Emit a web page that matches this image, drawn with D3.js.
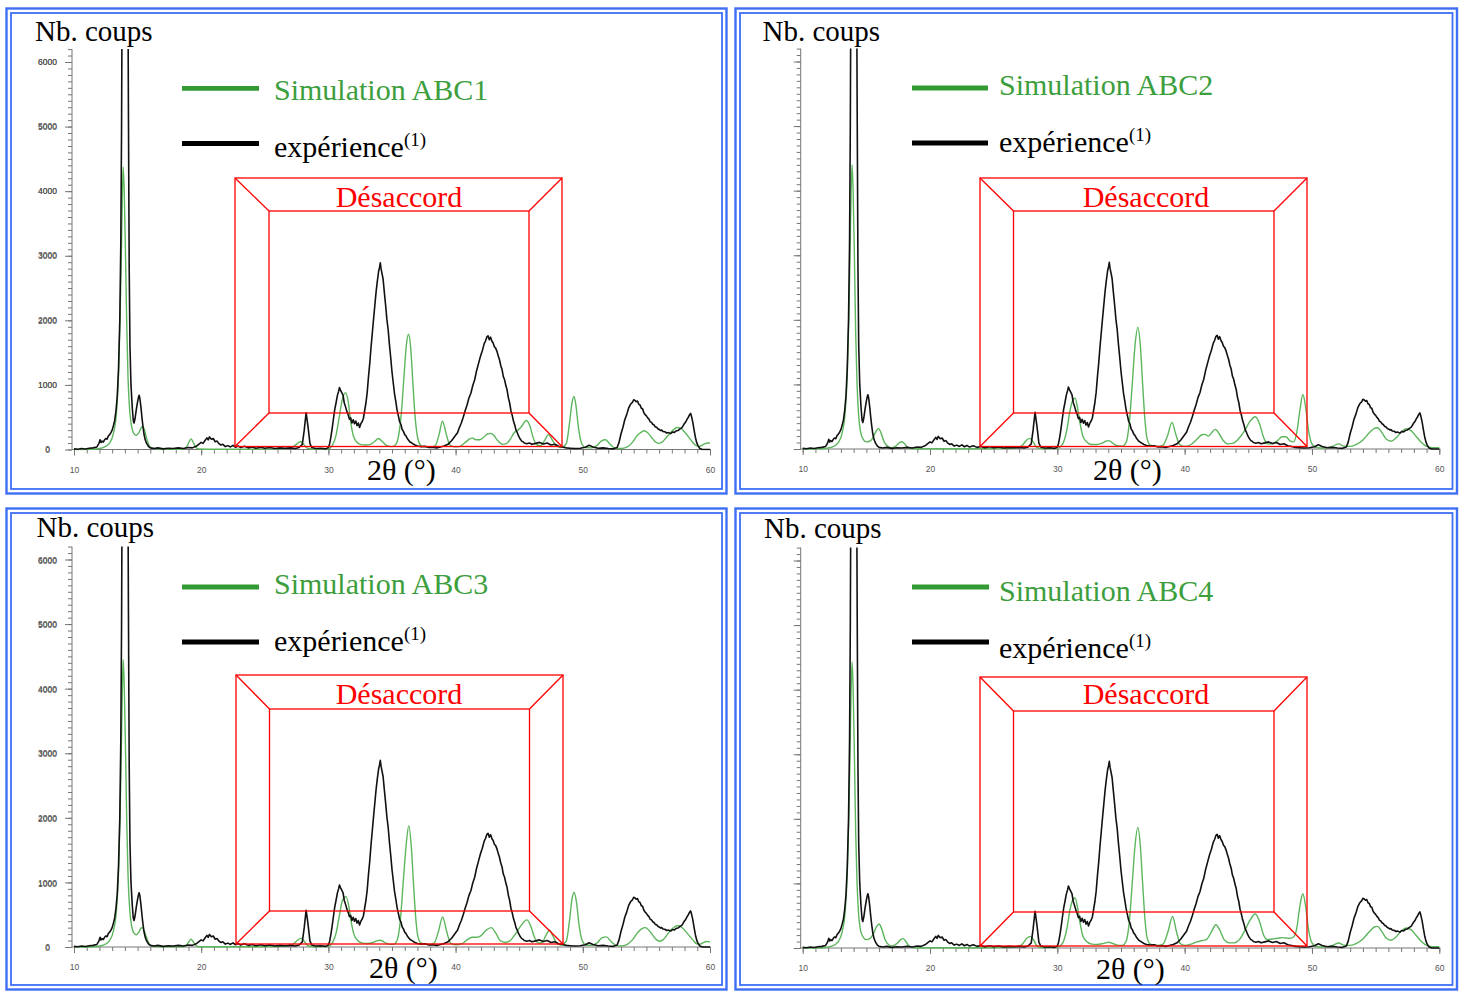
<!DOCTYPE html>
<html><head><meta charset="utf-8">
<script src="https://cdn.jsdelivr.net/npm/d3@7"></script>
<style>body{margin:0;background:#fff;} svg{display:block}</style>
</head><body><svg id="c" width="1463" height="991"></svg>
<script>
// ---------- data ----------
const xMajorTicks = [10, 20, 30, 40, 50, 60];
const yMajorTicks = [0, 1000, 2000, 3000, 4000, 5000, 6000];
const simulationNames = ["Simulation ABC1", "Simulation ABC2", "Simulation ABC3", "Simulation ABC4"];
const experienceLabel = "expérience";
const experienceNote = "(1)";
const yAxisTitle = "Nb. coups";
const xAxisTitle = "2θ (°)";
const boxLabel = "Désaccord";

// experimental pattern (2θ in degrees, counts)
const experience = [
[10.0,10],[10.3,5],[10.6,15],[10.9,8],[11.2,20],[11.5,25],[11.8,40],[11.95,90],[12.05,150],[12.12,110],[12.2,130],[12.3,115],[12.4,150],[12.5,170],[12.6,160],[12.7,210],[12.8,230],[12.9,260],[13.0,300],[13.1,370],[13.2,450],[13.3,600],[13.4,820],[13.5,1250],[13.6,2000],[13.68,3200],[13.74,5000],[13.8,8000],[14.0,14000],[14.22,8000],[14.28,5200],[14.34,2800],[14.4,1600],[14.48,1000],[14.58,650],[14.66,450],[14.72,410],[14.8,480],[14.9,620],[15.0,740],[15.06,800],[15.12,840],[15.18,790],[15.26,660],[15.34,500],[15.42,360],[15.5,240],[15.6,150],[15.72,90],[15.85,50],[16.0,25],[16.3,15],[16.6,25],[17.0,10],[17.4,20],[17.8,15],[18.2,25],[18.6,15],[19.0,30],[19.3,25],[19.6,50],[19.8,80],[20.0,110],[20.15,95],[20.3,140],[20.45,180],[20.55,150],[20.65,195],[20.8,160],[20.95,170],[21.1,120],[21.25,130],[21.4,90],[21.55,70],[21.7,80],[21.9,45],[22.1,60],[22.3,40],[22.5,65],[22.7,35],[22.9,55],[23.1,30],[23.4,50],[23.7,25],[24.0,40],[24.3,20],[24.7,35],[25.0,20],[25.4,30],[25.8,15],[26.2,25],[26.6,20],[27.0,25],[27.4,15],[27.7,30],[27.95,80],[28.1,300],[28.25,570],[28.4,350],[28.55,90],[28.7,30],[29.0,15],[29.4,20],[29.8,10],
[30.0,30],[30.1,90],[30.2,200],[30.3,330],[30.4,480],[30.5,620],[30.6,720],[30.7,830],[30.8,900],[30.87,960],[30.95,920],[31.05,880],[31.15,840],[31.25,720],[31.35,660],[31.45,590],[31.55,540],[31.65,470],[31.75,490],[31.85,410],[31.95,460],[32.05,400],[32.15,440],[32.25,370],[32.35,410],[32.45,340],[32.55,400],[32.65,430],[32.75,480],[32.85,600],[32.95,720],[33.05,880],[33.15,1120],[33.25,1330],[33.35,1580],[33.45,1800],[33.55,2020],[33.65,2230],[33.75,2440],[33.85,2610],[33.95,2760],[34.02,2820],[34.08,2890],[34.14,2800],[34.22,2720],[34.3,2640],[34.4,2430],[34.5,2230],[34.6,2010],[34.7,1850],[34.8,1620],[34.9,1420],[35.0,1200],[35.1,1030],[35.2,860],[35.3,740],[35.4,610],[35.5,520],[35.6,430],[35.7,390],[35.8,310],[35.9,280],[36.0,230],[36.1,210],[36.2,170],
[36.4,120],[36.6,95],[36.8,70],[37.0,55],[37.3,45],[37.6,50],[37.9,30],[38.2,35],[38.5,25],[38.8,40],[39.1,55],[39.4,80],[39.7,140],
[40.0,220],[40.15,260],[40.3,340],[40.45,410],[40.6,500],[40.75,600],[40.9,690],[41.05,800],[41.2,870],[41.35,990],[41.5,1080],[41.65,1220],[41.8,1330],[41.95,1440],[42.1,1530],[42.25,1640],[42.35,1680],[42.45,1740],[42.55,1760],[42.65,1700],[42.75,1740],[42.85,1680],[42.95,1650],[43.05,1590],[43.15,1570],[43.25,1520],[43.35,1450],[43.45,1390],[43.55,1300],[43.65,1240],[43.75,1130],[43.85,1080],[43.95,990],[44.05,920],[44.15,800],[44.25,720],[44.35,600],[44.45,530],[44.55,440],[44.65,380],[44.75,300],[44.85,260],[44.95,210],[45.05,170],[45.2,130],[45.3,120],[45.4,100],
[45.6,90],[45.8,100],[46.0,80],[46.3,95],[46.6,110],[46.9,85],[47.2,100],[47.5,70],[47.8,80],[48.1,50],[48.4,40],[48.7,25],[49.0,20],[49.4,15],[49.8,20],[50.2,35],[50.5,65],[50.8,40],[51.2,20],[51.6,25],[52.0,15],[52.4,10],
[52.7,30],[52.85,110],[53.0,240],[53.15,340],[53.3,460],[53.45,540],[53.6,640],[53.75,700],[53.9,730],[54.0,770],[54.1,760],[54.2,740],[54.3,750],[54.4,700],[54.5,690],[54.6,640],[54.7,630],[54.8,570],[54.9,540],[55.0,520],[55.1,490],[55.2,470],[55.3,430],[55.4,420],[55.5,390],[55.6,380],[55.7,350],[55.8,345],[55.9,320],[56.0,310],[56.1,295],[56.2,300],[56.3,280],[56.45,275],[56.6,255],[56.75,262],[56.9,245],[57.05,270],[57.2,265],[57.35,290],[57.5,295],[57.65,320],[57.8,340],[57.95,390],[58.1,430],[58.2,470],[58.3,500],[58.4,540],[58.47,560],[58.55,510],[58.65,420],[58.75,300],[58.85,190],[58.95,110],[59.05,60],[59.2,15],[59.4,0],[60.0,0]
];

const simABC1 = [
[10,0],[11.5,5],[12.3,30],[12.8,100],[13.1,250],[13.35,600],[13.5,1150],[13.62,2000],[13.72,3000],[13.8,3900],[13.87,4370],[13.95,4000],[14.05,3000],[14.15,1900],[14.25,1100],[14.38,600],[14.52,370],[14.7,250],[14.9,220],[15.1,260],[15.3,340],[15.42,355],[15.55,300],[15.7,180],[15.85,90],[16.0,40],[16.3,15],[17.0,5],[18.5,5],[18.85,40],[19.05,120],[19.2,165],[19.35,120],[19.55,40],[19.8,8],[21,5],[24,5],[26.5,10],[27.2,40],[27.55,90],[27.8,125],[28.05,80],[28.35,20],[29,5],[30.0,10],[30.3,60],[30.6,220],[30.85,500],[31.1,780],[31.35,880],[31.55,750],[31.75,430],[31.95,220],[32.2,120],[32.5,80],[32.9,70],[33.3,80],[33.6,120],[33.95,170],[34.25,120],[34.6,60],[35.0,45],[35.3,80],[35.55,250],[35.75,600],[35.95,1150],[36.12,1600],[36.3,1785],[36.48,1550],[36.65,1000],[36.82,500],[37.0,200],[37.2,80],[37.5,40],[38.0,35],[38.4,60],[38.7,230],[38.97,440],[39.25,250],[39.55,70],[39.9,40],[40.3,45],[40.7,100],[41.0,150],[41.3,180],[41.6,150],[41.9,150],[42.2,190],[42.5,240],[42.75,250],[43.0,220],[43.3,140],[43.7,80],[44.0,90],[44.3,160],[44.6,260],[44.9,300],[45.2,360],[45.55,450],[45.85,360],[46.1,180],[46.4,70],[46.7,60],[47.0,140],[47.3,230],[47.6,150],[47.9,60],[48.3,30],[48.7,90],[48.95,400],[49.15,720],[49.3,820],[49.45,700],[49.65,350],[49.9,100],[50.2,30],[50.7,25],[51.1,60],[51.45,130],[51.8,150],[52.1,90],[52.5,25],[53.0,15],[53.5,40],[53.9,110],[54.3,220],[54.6,270],[54.85,290],[55.1,260],[55.4,190],[55.7,120],[55.95,95],[56.2,110],[56.5,170],[56.8,240],[57.1,300],[57.4,340],[57.7,330],[58.0,270],[58.3,200],[58.6,120],[58.9,60],[59.2,50],[59.5,80],[59.8,100],[60,100]
];

const simABC2 = [
[10,0],[11.5,5],[12.3,30],[12.8,100],[13.1,250],[13.35,600],[13.5,1150],[13.62,2000],[13.72,3050],[13.8,3950],[13.88,4400],[13.96,4000],[14.06,3000],[14.16,1800],[14.27,1000],[14.4,500],[14.55,260],[14.75,150],[15.0,110],[15.25,120],[15.5,170],[15.75,270],[15.95,320],[16.15,250],[16.4,110],[16.7,40],[17.0,20],[17.35,50],[17.6,100],[17.8,113],[18.0,80],[18.3,20],[18.8,5],[24,5],[26.5,10],[27.2,50],[27.6,140],[27.85,165],[28.1,110],[28.4,20],[29,5],[30.0,10],[30.4,70],[30.75,300],[31.0,600],[31.25,770],[31.4,785],[31.6,620],[31.8,380],[32.0,200],[32.3,110],[32.7,70],[33.1,70],[33.5,90],[33.8,120],[34.05,130],[34.35,90],[34.7,50],[35.1,45],[35.4,100],[35.65,400],[35.9,1050],[36.1,1600],[36.32,1883],[36.52,1600],[36.7,1000],[36.88,450],[37.05,160],[37.3,60],[37.8,40],[38.3,60],[38.65,200],[39.0,413],[39.3,230],[39.6,70],[40.0,40],[40.5,70],[41.0,160],[41.35,220],[41.6,227],[41.85,200],[42.15,260],[42.4,304],[42.7,240],[43.0,140],[43.4,80],[43.8,90],[44.2,150],[44.7,280],[45.1,420],[45.55,500],[45.9,380],[46.2,180],[46.5,80],[46.9,80],[47.3,130],[47.65,190],[47.95,190],[48.25,130],[48.55,110],[48.8,250],[49.05,600],[49.28,846],[49.5,650],[49.72,300],[50.0,80],[50.4,20],[51.0,15],[51.6,40],[52.1,80],[52.5,45],[53.0,40],[53.5,70],[54.0,140],[54.5,250],[54.9,320],[55.15,330],[55.5,250],[55.85,150],[56.2,120],[56.6,170],[57.0,260],[57.4,315],[57.8,280],[58.2,190],[58.6,100],[59.0,40],[59.5,20],[60,20]
];

const simABC3 = [
[10,0],[11.5,5],[12.3,30],[12.8,100],[13.1,250],[13.35,600],[13.5,1150],[13.62,2000],[13.72,3050],[13.8,3950],[13.87,4450],[13.95,4050],[14.05,3050],[14.15,1900],[14.25,1100],[14.38,580],[14.52,340],[14.7,220],[14.9,190],[15.1,230],[15.28,295],[15.38,300],[15.52,250],[15.7,150],[15.85,70],[16.0,30],[16.3,10],[17.0,5],[18.5,5],[18.85,30],[19.05,90],[19.2,120],[19.35,90],[19.55,30],[19.8,5],[21,5],[24,5],[26.5,10],[27.2,40],[27.55,100],[27.85,137],[28.1,90],[28.4,20],[29,5],[30.0,10],[30.3,60],[30.6,210],[30.85,470],[31.1,720],[31.38,780],[31.6,640],[31.8,380],[32.0,200],[32.3,100],[32.7,60],[33.1,55],[33.5,70],[33.8,95],[34.05,105],[34.35,80],[34.7,45],[35.1,40],[35.4,100],[35.65,400],[35.9,1050],[36.1,1550],[36.32,1875],[36.52,1550],[36.7,950],[36.88,420],[37.05,150],[37.3,60],[37.8,40],[38.3,60],[38.65,240],[38.98,467],[39.3,240],[39.6,60],[40.0,35],[40.5,50],[40.9,110],[41.3,150],[41.6,150],[41.95,170],[42.4,260],[42.8,300],[43.15,220],[43.5,100],[43.9,70],[44.3,100],[44.7,200],[45.1,320],[45.6,420],[45.9,330],[46.2,150],[46.5,60],[46.8,70],[47.1,180],[47.38,260],[47.65,170],[47.95,60],[48.3,30],[48.7,90],[48.95,400],[49.15,740],[49.32,843],[49.5,700],[49.7,350],[49.95,100],[50.25,30],[50.7,25],[51.1,60],[51.5,140],[51.85,157],[52.2,90],[52.6,25],[53.0,15],[53.5,40],[53.9,110],[54.3,220],[54.65,285],[54.92,300],[55.2,260],[55.5,180],[55.8,110],[56.05,90],[56.3,110],[56.6,180],[56.9,260],[57.2,310],[57.45,330],[57.75,310],[58.05,250],[58.35,180],[58.65,110],[58.95,50],[59.25,45],[59.5,70],[59.7,85],[60,80]
];

const simABC4 = [
[10,0],[11.5,5],[12.3,30],[12.8,100],[13.1,250],[13.35,600],[13.5,1150],[13.62,2000],[13.72,3050],[13.8,3950],[13.88,4430],[13.96,4030],[14.06,3000],[14.16,1800],[14.27,1000],[14.4,500],[14.55,270],[14.75,170],[15.0,130],[15.3,150],[15.55,220],[15.8,330],[16.0,372],[16.2,300],[16.45,140],[16.75,50],[17.05,30],[17.4,70],[17.7,130],[17.9,145],[18.1,100],[18.4,25],[18.9,5],[24,5],[26.5,10],[27.2,50],[27.6,150],[27.9,180],[28.15,120],[28.45,20],[29,5],[30.0,10],[30.4,70],[30.75,300],[31.0,600],[31.25,760],[31.4,774],[31.6,610],[31.8,370],[32.0,190],[32.3,100],[32.7,60],[33.1,55],[33.5,65],[33.8,80],[34.05,88],[34.35,70],[34.7,45],[35.1,40],[35.4,100],[35.65,400],[35.9,1050],[36.1,1580],[36.32,1868],[36.52,1580],[36.7,1000],[36.88,450],[37.05,160],[37.3,60],[37.8,40],[38.3,60],[38.7,260],[39.05,490],[39.35,260],[39.65,70],[40.0,40],[40.5,60],[40.9,90],[41.3,113],[41.7,130],[42.1,250],[42.45,361],[42.8,260],[43.1,130],[43.5,80],[43.9,80],[44.3,130],[44.7,260],[45.1,420],[45.55,526],[45.9,400],[46.2,200],[46.5,130],[46.9,140],[47.3,150],[47.65,160],[47.95,155],[48.25,150],[48.55,170],[48.8,300],[49.05,650],[49.28,841],[49.5,650],[49.72,300],[50.0,80],[50.4,20],[51.0,15],[51.6,40],[52.1,77],[52.5,45],[53.0,40],[53.5,70],[54.0,140],[54.5,250],[54.9,325],[55.15,335],[55.5,250],[55.85,150],[56.2,120],[56.6,170],[57.0,260],[57.4,310],[57.8,280],[58.2,190],[58.6,100],[59.0,40],[59.5,20],[60,20]
];

const simulations = [simABC1, simABC2, simABC3, simABC4];

// ---------- layout (positions only) ----------
const layout = [
 {x0:74, x1:710, y0:449.5, frame:[6.5,8.5,726.5,493.5], leg:{x1:182,x2:259,gy:88.3,by:143.5,tx:274,gt:100,bt:157},
  box:{o:[235,178,562,446.5], i:[269,211,529,413]}, des:[399,207], nb:[35,41], th:[367,480]},
 {x0:802.7, x1:1439.3, y0:449, frame:[735.5,8.5,1457,493.5], leg:{x1:912,x2:988,gy:88,by:143,tx:999,gt:95,bt:152},
  box:{o:[980,178,1307,446.5], i:[1013.5,211,1274,413]}, des:[1146,207], nb:[762.5,41], th:[1093,480]},
 {x0:74, x1:710, y0:947, frame:[6.5,508.5,726.5,989.5], leg:{x1:182,x2:259,gy:587,by:642,tx:274,gt:594,bt:651},
  box:{o:[236,675,563,944], i:[269.5,709,529.5,911]}, des:[399,704], nb:[36.5,537], th:[369,978]},
 {x0:802.7, x1:1439.3, y0:948, frame:[735.5,508.5,1457,989.5], leg:{x1:912,x2:989,gy:587,by:642,tx:999,gt:601,bt:658},
  box:{o:[980,677,1307,946], i:[1013.5,711,1274,912]}, des:[1146,704], nb:[764,538], th:[1096,979]}
];

const BLUE = "#3f6ff5";
const SERIF = "'Liberation Serif','Times New Roman',serif";
const GREEN_CURVE = "#5cb65c";
const GREEN_LEG = "#339933";
const GREEN_TEXT = "#3d9e3d";

const svg = d3.select("#c");

layout.forEach((L, k) => {
  const g = svg.append("g");
  const x = d3.scaleLinear().domain([10, 60]).range([L.x0, L.x1]);
  const y = d3.scaleLinear().domain([0, 6000]).range([L.y0, L.y0 - 387.5]);
  const yTop = y(6200);

  const [fx0, fy0, fx1, fy1] = L.frame;
  g.append("rect").attr("x", fx0).attr("y", fy0).attr("width", fx1 - fx0).attr("height", fy1 - fy0)
    .attr("fill", "none").attr("stroke", BLUE).attr("stroke-width", 2.4);
  g.append("rect").attr("x", fx0 + 4.5).attr("y", fy0 + 4.5).attr("width", fx1 - fx0 - 9).attr("height", fy1 - fy0 - 9)
    .attr("fill", "none").attr("stroke", BLUE).attr("stroke-width", 1.8);

  const axisX = x(10) - 2;
  const yMinor = g.append("g").attr("transform", `translate(${axisX},0)`)
    .call(d3.axisLeft(y).tickValues(d3.range(0, 6201, 100)).tickSize(4).tickFormat(""));
  const yMajor = g.append("g").attr("transform", `translate(${axisX},0)`)
    .call(d3.axisLeft(y).tickValues(yMajorTicks).tickSize(7).tickFormat(d3.format("d")));
  [yMinor, yMajor].forEach(a => { a.select(".domain").remove(); a.selectAll("line").attr("stroke", "#777"); });
  yMajor.selectAll("text").attr("text-anchor", "middle").attr("x", 47.5 - axisX)
    .attr("font-family", "'Liberation Sans',Arial,sans-serif").attr("font-size", 8.5).attr("fill", "#555");

  const xMinor = g.append("g").attr("transform", `translate(0,${L.y0})`)
    .call(d3.axisBottom(x).tickValues(d3.range(10, 61, 1)).tickSize(4).tickFormat(""));
  const xMajor = g.append("g").attr("transform", `translate(0,${L.y0})`)
    .call(d3.axisBottom(x).tickValues(xMajorTicks).tickSize(6).tickPadding(11).tickFormat(d3.format("d")));
  [xMinor, xMajor].forEach(a => { a.select(".domain").remove(); a.selectAll("line").attr("stroke", "#777"); });
  xMajor.selectAll("text").attr("font-family", "'Liberation Sans',Arial,sans-serif").attr("font-size", 8.5).attr("fill", "#555");

  g.append("line").attr("x1", axisX).attr("x2", axisX).attr("y1", y(0)).attr("y2", yTop).attr("stroke", "#777").attr("stroke-width", 1);
  g.append("line").attr("x1", axisX).attr("x2", x(60) + 1).attr("y1", y(0)).attr("y2", y(0)).attr("stroke", "#777").attr("stroke-width", 1);

  const cid = "clip" + k;
  g.append("clipPath").attr("id", cid).append("rect")
    .attr("x", axisX).attr("y", yTop).attr("width", x(60) - axisX + 2).attr("height", y(0) - yTop + 1);

  g.append("path").datum(simulations[k]).attr("clip-path", `url(#${cid})`)
    .attr("d", d3.line().x(d => x(d[0])).y(d => y(d[1])).curve(d3.curveMonotoneX))
    .attr("fill", "none").attr("stroke", GREEN_CURVE).attr("stroke-width", 1.4);
  g.append("path").datum(experience).attr("clip-path", `url(#${cid})`)
    .attr("d", d3.line().x(d => x(d[0])).y(d => y(d[1])))
    .attr("fill", "none").attr("stroke", "#111").attr("stroke-width", 1.6).attr("stroke-linejoin", "round");

  const [ox0, oy0, ox1, oy1] = L.box.o, [ix0, iy0, ix1, iy1] = L.box.i;
  const red = g.append("g").attr("fill", "none").attr("stroke", "#ff0000").attr("stroke-width", 1.3);
  red.append("rect").attr("x", ox0).attr("y", oy0).attr("width", ox1 - ox0).attr("height", oy1 - oy0);
  red.append("rect").attr("x", ix0).attr("y", iy0).attr("width", ix1 - ix0).attr("height", iy1 - iy0);
  [[ox0, oy0, ix0, iy0], [ox1, oy0, ix1, iy0], [ox0, oy1, ix0, iy1], [ox1, oy1, ix1, iy1]].forEach(s =>
    red.append("line").attr("x1", s[0]).attr("y1", s[1]).attr("x2", s[2]).attr("y2", s[3]));
  g.append("text").attr("x", L.des[0]).attr("y", L.des[1]).attr("text-anchor", "middle")
    .attr("font-family", SERIF).attr("font-size", 30).attr("fill", "#ff0000").text(boxLabel);

  g.append("line").attr("x1", L.leg.x1).attr("x2", L.leg.x2).attr("y1", L.leg.gy).attr("y2", L.leg.gy)
    .attr("stroke", GREEN_LEG).attr("stroke-width", 4.8);
  g.append("line").attr("x1", L.leg.x1).attr("x2", L.leg.x2).attr("y1", L.leg.by).attr("y2", L.leg.by)
    .attr("stroke", "#000").attr("stroke-width", 4.8);
  g.append("text").attr("x", L.leg.tx).attr("y", L.leg.gt).attr("font-family", SERIF).attr("font-size", 30)
    .attr("fill", GREEN_TEXT).text(simulationNames[k]);
  const et = g.append("text").attr("x", L.leg.tx).attr("y", L.leg.bt).attr("font-family", SERIF).attr("font-size", 30).attr("fill", "#000");
  et.append("tspan").text(experienceLabel);
  et.append("tspan").attr("dy", -11).attr("font-size", 19).text(experienceNote);

  g.append("text").attr("x", L.nb[0]).attr("y", L.nb[1]).attr("font-family", SERIF).attr("font-size", 29).attr("fill", "#000").text(yAxisTitle);
  g.append("text").attr("x", L.th[0]).attr("y", L.th[1]).attr("font-family", SERIF).attr("font-size", 30).attr("fill", "#000").text(xAxisTitle);
});
</script></body></html>
